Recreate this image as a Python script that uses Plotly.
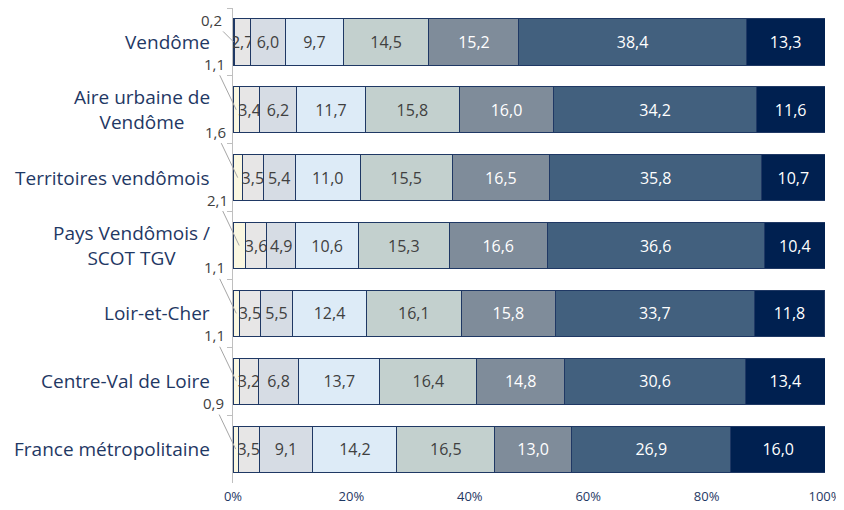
import plotly.graph_objects as go

# Data
territoires = ["Vendôme", "Aire urbaine de<br>Vendôme", "Territoires vendômois",
               "Pays Vendômois /<br>SCOT TGV", "Loir-et-Cher", "Centre-Val de Loire",
               "France métropolitaine"]
s1 = [0.2, 1.1, 1.6, 2.1, 1.1, 1.1, 0.9]
s2 = [2.7, 3.4, 3.5, 3.6, 3.5, 3.2, 3.5]
s3 = [6.0, 6.2, 5.4, 4.9, 5.5, 6.8, 9.1]
s4 = [9.7, 11.7, 11.0, 10.6, 12.4, 13.7, 14.2]
s5 = [14.5, 15.8, 15.5, 15.3, 16.1, 16.4, 16.5]
s6 = [15.2, 16.0, 16.5, 16.6, 15.8, 14.8, 13.0]
s7 = [38.4, 34.2, 35.8, 36.6, 33.7, 30.6, 26.9]
s8 = [13.3, 11.6, 10.7, 10.4, 11.8, 13.4, 16.0]
series = [s1, s2, s3, s4, s5, s6, s7, s8]

colors = ["#FAF7E1", "#E7E6E6", "#D6DCE4", "#DDEBF7", "#C3D0CE", "#7F8C9A", "#42607E", "#002050"]
text_colors = ["#404040"] * 5 + ["#FFFFFF"] * 3

fig = go.Figure()
for i, (vals, col) in enumerate(zip(series, colors)):
    fig.add_trace(go.Bar(
        y=territoires, x=vals, orientation="h",
        marker=dict(color=col, line=dict(color="#1F3864", width=1)),
        text=[f"{v:.1f}".replace(".", ",") for v in vals] if i > 0 else None,
        textposition="inside" if i > 0 else "none",
        insidetextanchor="middle", textangle=0,
        textfont=dict(color=text_colors[i], size=16),
        showlegend=False,
    ))

# labels of the first (tiny) segment, placed outside with leader lines
for k, (name, v) in enumerate(zip(territoires, s1)):
    fig.add_annotation(
        x=v / 2, y=name, xref="x", yref="y",
        text=f"{v:.1f}".replace(".", ","),
        showarrow=True, arrowhead=0, arrowwidth=1, arrowcolor="#A6A6A6",
        ax=-22, ay=-22 if k == 0 else -46,
        font=dict(size=15, color="#404040"),
    )

# category labels, centred multi-line
for name in territoires:
    fig.add_annotation(
        x=0, y=name, xref="paper", yref="y", xanchor="right", xshift=-21,
        text=name, showarrow=False, align="center",
        font=dict(size=19, color="#1F3864"),
    )

# page body has an 8px margin, so the figure is sized to fit the window
fig.update_layout(
    barmode="stack",
    bargap=0.32,
    width=836, height=502,
    margin=dict(l=225, r=19, t=0, b=27, autoexpand=False),
    plot_bgcolor="white", paper_bgcolor="white",
    font=dict(family="Open Sans, Calibri, sans-serif"),
    uniformtext=dict(minsize=16, mode="show"),
    xaxis=dict(range=[0, 100], dtick=20, ticksuffix="%", showgrid=False,
               zeroline=False, showline=False, automargin=False,
               ticklabelstandoff=4,
               tickfont=dict(size=13, color="#1F3864")),
    yaxis=dict(range=[len(territoires) - 0.5, -0.5], autorange=False,
               showticklabels=False, showline=True,
               linecolor="#BFBFBF", ticks="outside", tickson="boundaries",
               ticklen=5, tickcolor="#BFBFBF", showgrid=False, automargin=False),
)

fig.write_html("out.html")
